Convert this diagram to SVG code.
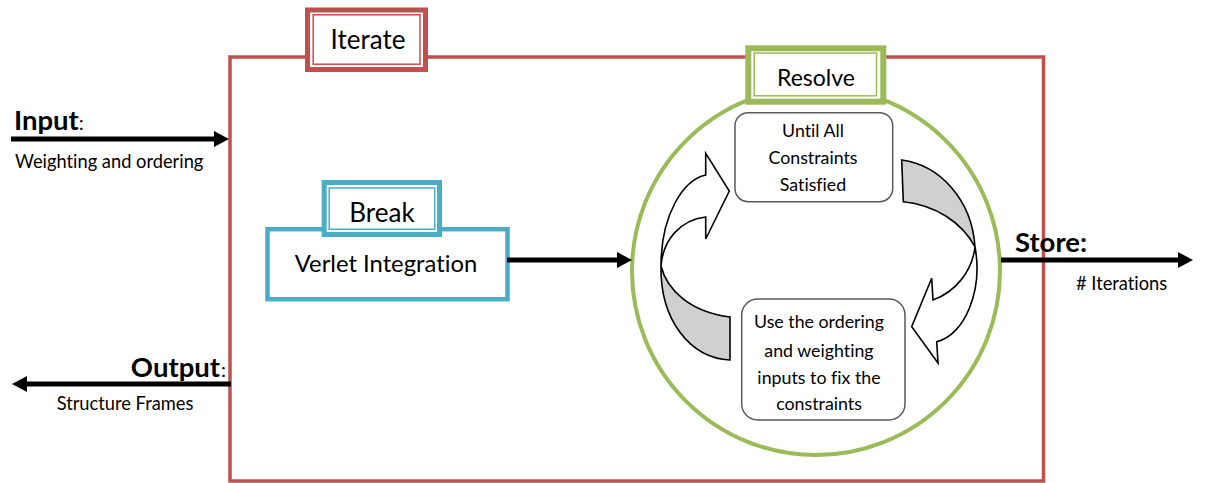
<svg xmlns="http://www.w3.org/2000/svg" width="1205" height="483" viewBox="0 0 1205 483">
  <style>
    text { font-family: Lato, "Open Sans", "Liberation Sans", sans-serif; fill: #000; font-variant-ligatures: none; }
    .title { font-size: 26px; text-anchor: middle; }
    .io { font-size: 27.5px; font-weight: bold; }
    .sub { font-size: 18.3px; }
    .step { font-size: 17.8px; text-anchor: middle; }
    .wire { stroke: #000; stroke-width: 5; fill: none; }
    .frame { fill: #fff; }
    .red { stroke: #C0504D; }
    .green { stroke: #9BBB59; }
    .blue { stroke: #4BACC6; }
    .outer { stroke-width: 5; }
    .inner { stroke-width: 1.5; fill: none; }
    .note { fill: #fff; stroke: #595959; stroke-width: 1.5; }
    .band { fill: #fff; stroke: #000; stroke-width: 1.6; stroke-linejoin: miter; }
    .shade { fill: #D0D0D0; stroke: #000; stroke-width: 1.6; }
  </style>
  <defs>
    <marker id="head" markerUnits="userSpaceOnUse" markerWidth="15" markerHeight="16" viewBox="0 0 15 16" refX="0" refY="8" orient="auto" overflow="visible">
      <path d="M0 0 L15 8 L0 16 Z" fill="#000"/>
    </marker>
  </defs>

  <!-- Iterate: outer loop frame -->
  <g id="iterate">
    <rect x="230" y="57" width="813.5" height="424" fill="none" class="red" stroke-width="3.5"/>
    <rect x="307.5" y="10" width="118" height="59.5" class="frame red outer"/>
    <rect x="313.2" y="14.8" width="106.8" height="49.4" class="red inner"/>
    <text class="title" x="368" y="49">Iterate</text>
  </g>

  <!-- Resolve: constraint loop -->
  <g id="resolve">
    <circle cx="816" cy="271" r="184" fill="none" class="green" stroke-width="4"/>
    <rect x="748.3" y="48.3" width="135" height="53.4" class="frame green" stroke-width="6"/>
    <rect x="754.2" y="53" width="122.3" height="42.8" class="green inner"/>
    <text class="title" x="816" y="85.5" style="font-size:23px">Resolve</text>
  </g>

  <!-- Break: integration step -->
  <g id="verlet">
    <rect x="267.5" y="229.2" width="240" height="70" class="frame blue" stroke-width="4.5"/>
    <text class="title" x="386" y="272.2" style="font-size:23.8px">Verlet Integration</text>
  </g>
  <g id="break">
    <rect x="324.2" y="182.5" width="115.3" height="52" class="frame blue outer"/>
    <rect x="329.2" y="188" width="105.5" height="41.2" class="blue inner"/>
    <text class="title" x="382" y="222.2">Break</text>
  </g>

  <!-- Steps inside the resolve loop -->
  <g id="until">
    <rect x="735" y="112.7" width="157.7" height="89" rx="13" class="note"/>
    <text class="step" x="813" y="136.5">Until All</text>
    <text class="step" x="813" y="164.3">Constraints</text>
    <text class="step" x="813" y="190.7">Satisfied</text>
  </g>
  <g id="fix">
    <rect x="741.7" y="299" width="163.3" height="121" rx="16" class="note"/>
    <text class="step" x="819" y="328.3">Use the ordering</text>
    <text class="step" x="819" y="356.5">and weighting</text>
    <text class="step" x="819" y="384.3">inputs to fix the</text>
    <text class="step" x="819" y="410">constraints</text>
  </g>

  <!-- Curved loop arrows -->
  <g id="loop-up">
    <path class="shade" d="M661 266 C667 290 690 312 730 317 L730 360 C690 358 660 320 661 266 Z"/>
    <path class="band" d="M705.7 175 C683 180 661 215 661 266 C663 240 680 220 705.7 217 L705.7 239 L729.3 191 L705.7 153.3 Z"/>
  </g>
  <g id="loop-down">
    <path class="shade" d="M901.7 160 C940 165 972 200 975 247 C962 222 935 205 903.3 201.7 Z"/>
    <path class="band" d="M975 247 C983 290 965 335 936.7 341.7 L938 363 L911.7 326.7 L931.7 278.3 L933 300 C955 292 972 272 975 247 Z"/>
  </g>

  <!-- Labels on the inputs and outputs -->
  <g id="input">
    <text class="io" x="14" y="130">Input<tspan style="font-weight:normal;font-size:20px">:</tspan></text>
    <text class="sub" x="15" y="168">Weighting and ordering</text>
  </g>
  <g id="output">
    <text class="io" x="220" y="377" text-anchor="end">Output</text>
    <text x="221" y="377" style="font-size:20px">:</text>
    <text class="sub" x="125" y="410" text-anchor="middle">Structure Frames</text>
  </g>
  <g id="store">
    <text class="io" x="1015" y="251.5">Store:</text>
    <text class="sub" x="1076" y="290">#<tspan> Iterations</tspan></text>
  </g>

  <!-- Connectors -->
  <g id="connectors">
    <line class="wire" x1="11" y1="139" x2="214" y2="139" marker-end="url(#head)"/>
    <line class="wire" x1="231" y1="384" x2="27" y2="384" marker-end="url(#head)"/>
    <line class="wire" x1="507" y1="260" x2="617" y2="260" marker-end="url(#head)"/>
    <line class="wire" x1="1001" y1="260" x2="1178" y2="260" marker-end="url(#head)"/>
  </g>
</svg>
